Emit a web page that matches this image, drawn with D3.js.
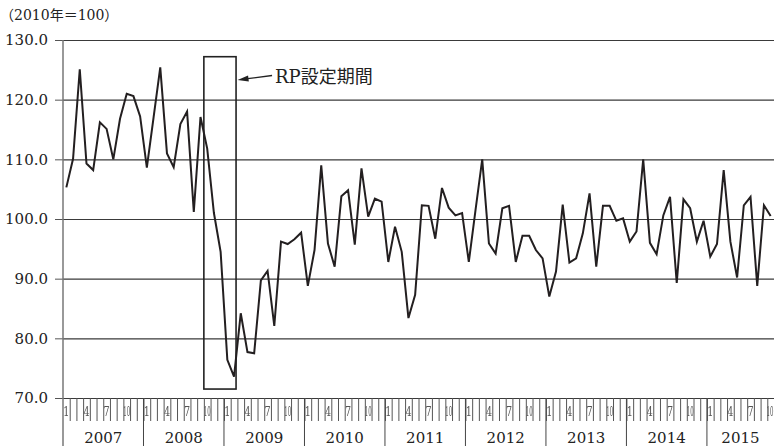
<!DOCTYPE html>
<html>
<head>
<meta charset="utf-8">
<script src="https://cdn.jsdelivr.net/npm/d3@7"></script>
<style>
  body { margin: 0; background: #fff; }
  svg { display: block; }
</style>
</head>
<body>
<div id="chart"></div>
<script>
// monthly index, Jan 2007 - Oct 2015
const years = [2007, 2008, 2009, 2010, 2011, 2012, 2013, 2014, 2015];
const labelMonths = [1, 4, 7, 10];
const yTicks = [70, 80, 90, 100, 110, 120, 130];
const values = [
    105.3, 110.1, 125.1, 109.3, 108.2, 116.2, 115.1, 110.0, 116.8, 121.0, 120.6, 117.2, // 2007
    108.6, 117.0, 125.4, 111.0, 108.7, 115.9, 118.0, 101.2, 117.1, 111.8, 101.0, 94.5,  // 2008
    76.4, 73.6, 84.2, 77.7, 77.5, 89.7, 91.3, 82.1, 96.2, 95.8, 96.6, 97.7,             // 2009
    88.8, 94.8, 109.0, 95.9, 92.0, 103.8, 104.8, 95.7, 108.5, 100.4, 103.4, 102.9,      // 2010
    92.8, 98.7, 94.5, 83.4, 87.3, 102.3, 102.2, 96.7, 105.2, 101.9, 100.6, 101.0,       // 2011
    92.8, 101.5, 110.0, 95.9, 94.2, 101.8, 102.2, 92.8, 97.2, 97.2, 94.8, 93.4,         // 2012
    87.0, 91.2, 102.4, 92.7, 93.4, 97.6, 104.3, 92.0, 102.2, 102.2, 99.7, 100.1,        // 2013
    96.2, 97.9, 110.0, 96.0, 94.1, 100.6, 103.7, 89.3, 103.3, 101.8, 96.2, 99.7,        // 2014
    93.7, 95.8, 108.2, 96.2, 90.2, 102.3, 103.7, 88.8, 102.3, 100.5                     // 2015
];
// RP period box, in month-index units and index values
const rpMonths = [21, 25.8];
const rpValues = [71.5, 127.2];
const unitLabel = "（2010年＝100）";
const rpLabel = "RP設定期間";

const width = 774, height = 446;
const margin = {top: 40, right: 0, bottom: 48, left: 63};
const serif = "'DejaVu Serif', 'Noto Sans CJK JP', serif";

let svg = d3.select("#chart")
    .append("svg")
    .attr("width", width)
    .attr("height", height);

// grayscale filter for the tiny squeezed month labels
svg.append("defs")
    .append("filter")
    .attr("id", "gray")
    .append("feColorMatrix")
    .attr("type", "saturate")
    .attr("values", 0);

let x = d3.scaleLinear()
    .domain([0, values.length])
    .range([margin.left, width - margin.right]);

let y = d3.scaleLinear()
    .domain([70, 130])
    .range([height - margin.bottom, margin.top]);

// gridlines
svg.append("g")
    .attr("transform", `translate(${margin.left},0)`)
    .call(d3.axisLeft(y).tickValues(yTicks).tickSize(-(width - margin.left)).tickFormat(""))
    .call(g => g.select(".domain").remove())
    .call(g => g.selectAll("line").attr("stroke", "#3a3a3a").attr("stroke-width", 1.2));

// y axis labels + small ticks
svg.append("g")
    .attr("transform", `translate(${margin.left},0)`)
    .call(d3.axisLeft(y).tickValues(yTicks).tickSize(8).tickPadding(7).tickFormat(d3.format(".1f")))
    .call(g => g.select(".domain").remove())
    .call(g => g.selectAll("line").attr("stroke", "#555"))
    .call(g => g.selectAll("text")
        .attr("font-family", serif)
        .attr("font-size", "15px")
        .attr("fill", "#222"));

// y axis line, running down through the year band
svg.append("line")
    .attr("x1", margin.left).attr("x2", margin.left)
    .attr("y1", y(130)).attr("y2", height)
    .attr("stroke", "#777").attr("stroke-width", 1.5);

// month ticks
svg.append("g")
    .attr("transform", `translate(0,${y(70)})`)
    .call(d3.axisBottom(x).tickValues(d3.range(1, values.length + 1)).tickSize(23).tickFormat(""))
    .call(g => g.select(".domain").remove())
    .call(g => g.selectAll("line").attr("stroke", "#555"));

// year separators
svg.selectAll(".year-line")
    .data(years.slice(1))
    .enter()
    .append("line")
    .attr("class", "year-line")
    .attr("x1", (d, i) => x((i + 1) * 12))
    .attr("x2", (d, i) => x((i + 1) * 12))
    .attr("y1", y(70))
    .attr("y2", height)
    .attr("stroke", "#444");

// month labels 1 4 7 10, squeezed into the month cell
let monthData = [];
values.forEach((v, i) => {
    let m = i % 12 + 1;
    if (labelMonths.includes(m)) monthData.push({i: i, m: m});
});
let monthG = svg.append("g").attr("filter", "url(#gray)");
monthG.selectAll(".month-label")
    .data(monthData)
    .enter()
    .append("text")
    .attr("class", "month-label")
    .attr("transform", d => {
        let cx = Math.min(x(d.i + 0.5), width - 4);
        let sx = d.m >= 10 ? 0.45 : 0.8;
        return `translate(${cx},${y(70) + 18}) scale(${sx},1)`;
    })
    .attr("text-anchor", "middle")
    .attr("font-family", serif)
    .attr("font-size", "12px")
    .attr("fill", "#555")
    .text(d => d.m);

// year labels
svg.selectAll(".year-label")
    .data(years)
    .enter()
    .append("text")
    .attr("class", "year-label")
    .attr("x", (d, i) => x(Math.min(i * 12 + 6, (i * 12 + values.length) / 2)))
    .attr("y", height - 3)
    .attr("text-anchor", "middle")
    .attr("font-family", serif)
    .attr("font-size", "15px")
    .attr("fill", "#222")
    .text(d => d);

// RP box
svg.append("rect")
    .attr("x", x(rpMonths[0]))
    .attr("y", y(rpValues[1]))
    .attr("width", x(rpMonths[1]) - x(rpMonths[0]))
    .attr("height", y(rpValues[0]) - y(rpValues[1]))
    .attr("fill", "none")
    .attr("stroke", "#222")
    .attr("stroke-width", 1.6);

// index line
let line = d3.line()
    .x((d, i) => x(i + 0.5))
    .y(d => y(d));

svg.append("path")
    .datum(values)
    .attr("d", line)
    .attr("fill", "none")
    .attr("stroke", "#231f20")
    .attr("stroke-width", 2)
    .attr("stroke-linejoin", "miter");

// annotation
let labelX = x(rpMonths[1]) + 39;
let labelY = 83;
svg.append("text")
    .attr("x", labelX)
    .attr("y", labelY)
    .attr("font-family", serif)
    .attr("font-size", "18px")
    .attr("fill", "#222")
    .text(rpLabel);

let tipX = x(rpMonths[1]) + 1.5, tipY = labelY - 3;
let tailX = labelX - 3, tailY = labelY - 7.5;
let ang = Math.atan2(tailY - tipY, tailX - tipX);
let hl = 11, hw = 3;
svg.append("line")
    .attr("x1", tailX).attr("y1", tailY)
    .attr("x2", tipX + Math.cos(ang) * 6).attr("y2", tipY + Math.sin(ang) * 6)
    .attr("stroke", "#222").attr("stroke-width", 1.3);
svg.append("path")
    .attr("d", `M${tipX},${tipY}`
        + `L${tipX + Math.cos(ang) * hl - Math.sin(ang) * hw},${tipY + Math.sin(ang) * hl + Math.cos(ang) * hw}`
        + `L${tipX + Math.cos(ang) * hl + Math.sin(ang) * hw},${tipY + Math.sin(ang) * hl - Math.cos(ang) * hw}Z`)
    .attr("fill", "#222");

// unit label
svg.append("text")
    .attr("x", 0)
    .attr("y", 20)
    .attr("font-family", serif)
    .attr("font-size", "14px")
    .attr("fill", "#222")
    .text(unitLabel);
</script>
</body>
</html>
